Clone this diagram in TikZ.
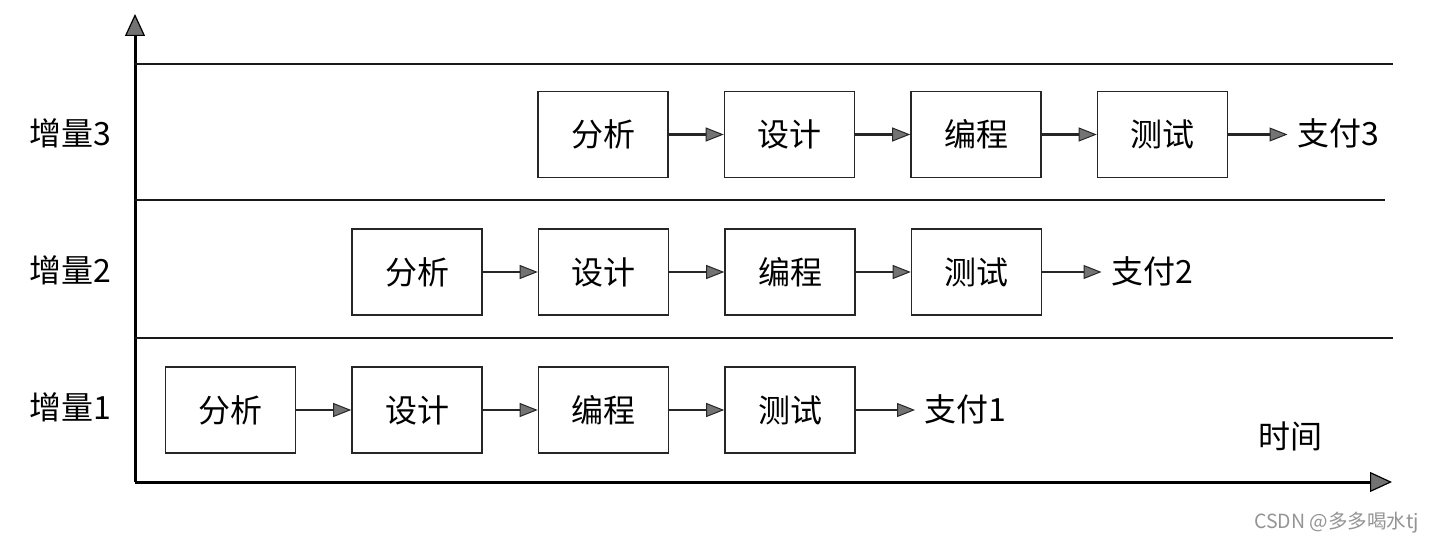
\documentclass[tikz,border=0pt]{standalone}
\usepackage{fontspec}
\setmainfont{Noto Sans CJK SC}
\usetikzlibrary{arrows.meta}
\begin{document}
\begin{tikzpicture}[x=1pt,y=-1pt,
  stage/.style={draw=black!85, line width=1.6pt, minimum width=130pt,
    minimum height=86pt, inner sep=0pt, font=\fontsize{32}{34}\selectfont},
  flow/.style={draw=black!85, line width=2.2pt,
    -{Triangle[length=18pt,width=14pt,fill=black!55,line width=1pt]}},
  axis/.style={draw=black, line width=3pt,
    -{Triangle[length=22pt,width=20pt,fill=black!55,line width=1.2pt]}},
  lane/.style={draw=black!90, line width=2.2pt},
  label/.style={font=\fontsize{32}{34}\selectfont, inner sep=0pt},
]
\useasboundingbox (0,0) rectangle (1431,543);

% axes
\coordinate (O) at (135,482);
\coordinate (ytip) at (135,14);
\coordinate (xtip) at (1392,482);
\draw[axis] (O) -- (ytip);
\draw[axis] (O) -- (xtip);

% lane separators
\coordinate (l3a) at (135,64);  \coordinate (l3b) at (1393,64);
\coordinate (l2a) at (135,200); \coordinate (l2b) at (1385,200);
\coordinate (l1a) at (135,338); \coordinate (l1b) at (1393,338);
\draw[lane] (l3a) -- (l3b);
\draw[lane] (l2a) -- (l2b);
\draw[lane] (l1a) -- (l1b);

% increment labels
\node[label] (inc3) at (70,133) {增量3};
\node[label] (inc2) at (70,270) {增量2};
\node[label] (inc1) at (70,407) {增量1};

% stages of each increment
\foreach \r/\x/\y in {1/230.5/410, 2/417/272, 3/603/134.5}{
  \node[stage] (r\r a) at (\x,\y) {分析};
  \node[stage] (r\r b) at (\x+186.5,\y) {设计};
  \node[stage] (r\r c) at (\x+373,\y) {编程};
  \node[stage] (r\r d) at (\x+559.5,\y) {测试};
  \coordinate (r\r t) at (\x+684.5,\y);
  \node[label, anchor=west] (r\r p) at (\x+694,\y-1) {支付\r};
  \draw[flow] (r\r a) -- (r\r b);
  \draw[flow] (r\r b) -- (r\r c);
  \draw[flow] (r\r c) -- (r\r d);
  \draw[flow] (r\r d) -- (r\r t);
}

\node[label] (time) at (1290,436) {时间};

\node[font=\fontsize{19.5}{21}\selectfont, text=black!42, inner sep=0pt,
  anchor=east] (mark) at (1419,523) {CSDN @多多喝水tj};
\end{tikzpicture}
\end{document}
